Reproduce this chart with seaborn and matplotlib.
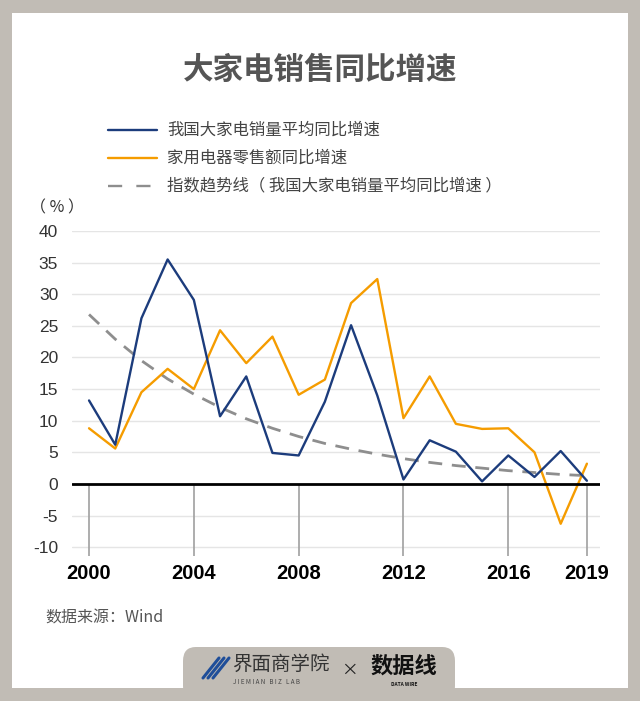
import matplotlib
matplotlib.use("Agg")
import matplotlib.pyplot as plt
from matplotlib.patches import FancyBboxPatch, Rectangle
from matplotlib.lines import Line2D
import seaborn as sns
import pandas as pd

years = list(range(2000, 2020))
sales_growth = [13.2, 6.2, 26.2, 35.5, 29.1, 10.7, 17.0, 4.9, 4.5, 13.0,
                25.1, 14.0, 0.7, 6.9, 5.1, 0.4, 4.5, 1.1, 5.2, 0.5]
retail_growth = [8.8, 5.6, 14.5, 18.2, 15.0, 24.3, 19.1, 23.3, 14.1, 16.5,
                 28.6, 32.4, 10.4, 17.0, 9.5, 8.7, 8.8, 5.0, -6.3, 3.2]
trend_values = [26.8, 22.9, 19.5, 16.6, 14.2, 12.1, 10.3, 8.8, 7.5, 6.4,
                5.5, 4.7, 4.0, 3.4, 2.9, 2.5, 2.1, 1.8, 1.5, 1.3]
xtick_years = [2000, 2004, 2008, 2012, 2016, 2019]
yticks = [-10, -5, 0, 5, 10, 15, 20, 25, 30, 35, 40]
series_names = ["我国大家电销量平均同比增速", "家用电器零售额同比增速",
                "指数趋势线（ 我国大家电销量平均同比增速 ）"]
title = "大家电销售同比增速"
source = "数据来源：Wind"

sns.set_theme(style="white")
plt.rcParams['font.family'] = ['Noto Sans CJK SC', 'DejaVu Sans']

W, H = 640, 701
fig = plt.figure(figsize=(W / 100, H / 100), dpi=100)
fig.patch.set_facecolor("#c1bcb5")

def fx(px):
    return px / W

def fy(py):
    return 1 - py / H

# white panel
fig.patches.append(Rectangle((fx(12), fy(688)), fx(616), (688 - 13) / H,
                             transform=fig.transFigure, facecolor="white",
                             edgecolor="none", zorder=-5))

# axes
ax = fig.add_axes([fx(72), fy(556), fx(528), (556 - 231) / H])
ax.set_zorder(3)
ax.set_facecolor("none")
blue = "#1c3c7c"
orange = "#f59c00"
grey = "#8e8e8e"

for v in yticks:
    if v != 0:
        ax.axhline(v, color="#e5e5e5", lw=1, zorder=0)
ax.vlines(xtick_years, -11.4, 0, colors="#a0a0a0", lw=1.2, zorder=1)

df = pd.DataFrame({"year": years, "sales": sales_growth,
                   "retail": retail_growth, "trend": trend_values})
sns.lineplot(data=df, x="year", y="trend", ax=ax, color=grey, lw=2,
             zorder=2, linestyle=(0, (5, 3.5)))
sns.lineplot(data=df, x="year", y="retail", ax=ax, color=orange, lw=1.7, zorder=3)
sns.lineplot(data=df, x="year", y="sales", ax=ax, color=blue, lw=1.7, zorder=4)
ax.axhline(0, color="black", lw=2, zorder=5)

ax.set_xlim(1999.35, 2019.5)
ax.set_ylim(-11.4, 40)
ax.set_yticks(yticks)
ax.set_yticklabels([str(v) for v in yticks], fontsize=12.5, color="#333333",
                   family=['Liberation Sans', 'DejaVu Sans'])
ax.tick_params(axis="y", length=0, pad=10)
ax.set_xticks([])
ax.set_xlabel("")
ax.set_ylabel("")
for s in ax.spines.values():
    s.set_visible(False)

for yr in xtick_years:
    ax.text(yr, -12.6, str(yr), ha="center", va="top", fontsize=14.5,
            fontweight="bold", color="black",
            family=['Liberation Sans Narrow', 'Liberation Sans', 'DejaVu Sans'])

fig.text(fx(30), fy(208), "（ % ）", fontsize=11.5, color="#333333", ha="left", va="center")

# title
fig.text(0.5, fy(70), title, fontsize=22, fontweight="bold", color="#555555",
         ha="center", va="center")

# legend
leg_y = [130, 158, 186]
styles = [dict(color=blue, lw=1.7, ls="-"), dict(color=orange, lw=1.7, ls="-"),
          dict(color=grey, lw=1.7, ls=(0, (6, 6)))]
for yy, st, name in zip(leg_y, styles, series_names):
    fig.lines.append(Line2D([fx(108), fx(157)], [fy(yy), fy(yy)],
                            transform=fig.transFigure, **st))
    fig.text(fx(167), fy(yy), name, fontsize=11.8, color="#444444",
             ha="left", va="center")

# source
fig.text(fx(45), fy(618), source, fontsize=11.5, color="#555555",
         ha="left", va="center")

# footer tab
tab = FancyBboxPatch((fx(183), fy(700)), fx(272), (700 - 647) / H,
                     boxstyle="round,pad=0,rounding_size=0.02",
                     transform=fig.transFigure, facecolor="#c1bcb5",
                     edgecolor="none", zorder=1)
fig.patches.append(tab)
for i in range(3):
    x0 = 203 + i * 5
    fig.lines.append(Line2D([fx(x0), fx(x0 + 16)], [fy(678), fy(658)],
                            transform=fig.transFigure, color="#1f4e99", lw=2.2))
fig.text(fx(232), fy(664), "界面商学院", fontsize=14, color="#333333",
         ha="left", va="center")
fig.text(fx(233), fy(682), "J I E M I A N   B I Z   L A B", fontsize=4.5,
         color="#444444", ha="left", va="center")
fig.text(fx(349), fy(670), "×", fontsize=12, color="#222222", ha="center", va="center")
fig.text(fx(404), fy(666), "数据线", fontsize=16, fontweight="bold", color="#111111",
         ha="center", va="center")
fig.text(fx(404), fy(685), "DATA WIRE", fontsize=3.5, color="#111111",
         ha="center", va="center", fontweight="bold")

fig.savefig("out.png", dpi=100, facecolor=fig.get_facecolor())
